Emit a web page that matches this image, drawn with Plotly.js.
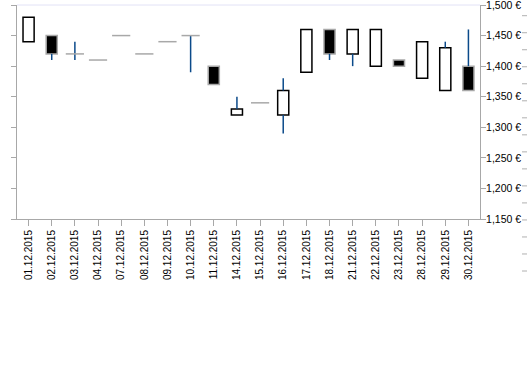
<!DOCTYPE html>
<html><head><meta charset="utf-8">
<script src="https://cdn.plot.ly/plotly-3.0.1.min.js"></script>
<style>html,body{margin:0;padding:0;background:#fff}</style>
</head><body>
<div id="c" style="width:527px;height:369px"></div>
<script>
const dates = ["01.12.2015","02.12.2015","03.12.2015","04.12.2015","07.12.2015","08.12.2015","09.12.2015","10.12.2015","11.12.2015","14.12.2015","15.12.2015","16.12.2015","17.12.2015","18.12.2015","21.12.2015","22.12.2015","23.12.2015","28.12.2015","29.12.2015","30.12.2015"];
const openV  = [1440,1450,1420,1410,1450,1420,1440,1450,1400,1320,1340,1320,1390,1460,1420,1400,1410,1380,1360,1400];
const highV  = [1480,1450,1440,1410,1450,1420,1440,1450,1400,1350,1340,1380,1460,1460,1460,1460,1410,1440,1440,1460];
const lowV   = [1440,1410,1410,1410,1450,1420,1440,1390,1370,1320,1340,1290,1390,1410,1400,1400,1400,1380,1360,1360];
const closeV = [1480,1420,1420,1410,1450,1420,1440,1450,1370,1330,1340,1360,1460,1420,1460,1460,1400,1440,1430,1360];
const yTicks = [1150,1200,1250,1300,1350,1400,1450,1500];
const yTickText = yTicks.map(v => v.toLocaleString('en-US') + ' €');

const FONT = 'Liberation Sans, Arial, sans-serif';
const wickX = [], wickY = [];
const incX = [], incB = [], incH = [];
const decX = [], decB = [], decH = [];
const flatX = [], flatY = [];
dates.forEach((d, i) => {
  const o = openV[i], c = closeV[i], h = highV[i], l = lowV[i];
  const lo = Math.min(o, c), hi = Math.max(o, c);
  if (l < lo) { wickX.push(d, d, null); wickY.push(l, lo, null); }
  if (h > hi) { wickX.push(d, d, null); wickY.push(hi, h, null); }
  if (c > o) { incX.push(d); incB.push(o); incH.push(c - o); }
  else if (c < o) { decX.push(d); decB.push(c); decH.push(o - c); }
  else { flatX.push(d); flatY.push(o); }
});

const traces = [
  {type:'scatter', mode:'lines', x:wickX, y:wickY, line:{color:'#0b4a8a', width:1.5}, hoverinfo:'skip', connectgaps:false},
  {type:'bar', x:incX, base:incB, y:incH, width:0.48, marker:{color:'#ffffff', line:{color:'#000000', width:1.5}}},
  {type:'bar', x:decX, base:decB, y:decH, width:0.48, marker:{color:'#000000', line:{color:'#a8a8a8', width:1.5}}},
  {type:'scatter', mode:'markers', x:flatX, y:flatY, marker:{symbol:'line-ew', size:13, color:'#a8a8a8', line:{color:'#a8a8a8', width:1.5}}}
];

const T = 5, B = 150, H = 369 - T - B;
const shapes = [
  {type:'line', xref:'paper', yref:'paper', x0:0, x1:1, y0:1, y1:1, line:{color:'#e2e2f6', width:1}}
];
for (let k = 0; k < 16; k++) {
  const ypx = 15.7 + k * 17.02;
  const yp = (369 - B - ypx) / H;
  shapes.push({type:'line', xref:'paper', yref:'paper', x0:(522-17)/463, x1:(527-17)/463, y0:yp, y1:yp, line:{color:'#b0b0b0', width:1}});
}

const layout = {
  width:527, height:369,
  margin:{l:17, r:47, t:T, b:B},
  paper_bgcolor:'#fff', plot_bgcolor:'#fff',
  showlegend:false, barmode:'overlay',
  font:{family:FONT, color:'#000', size:10},
  xaxis:{type:'category', categoryorder:'array', categoryarray:dates, range:[-0.5, dates.length-0.5],
    showline:true, linecolor:'#a8a8a8', linewidth:1, ticks:'outside', ticklen:6, tickcolor:'#a8a8a8',
    tickangle:-90, tickfont:{size:10, family:FONT, color:'#000'}, showgrid:false, zeroline:false, fixedrange:true},
  yaxis:{range:[1150,1500], side:'right', showline:true, mirror:'ticks', linecolor:'#a8a8a8', linewidth:1,
    ticks:'outside', ticklen:5, tickcolor:'#a8a8a8', tickvals:yTicks, ticktext:yTickText,
    ticklabeloverflow:'allow', ticklabelstandoff:-2,
    tickfont:{size:10.5, family:FONT, color:'#000'}, showgrid:false, zeroline:false, fixedrange:true},
  shapes:shapes
};
Plotly.newPlot('c', traces, layout, {staticPlot:true, displayModeBar:false});
</script>
</body></html>
